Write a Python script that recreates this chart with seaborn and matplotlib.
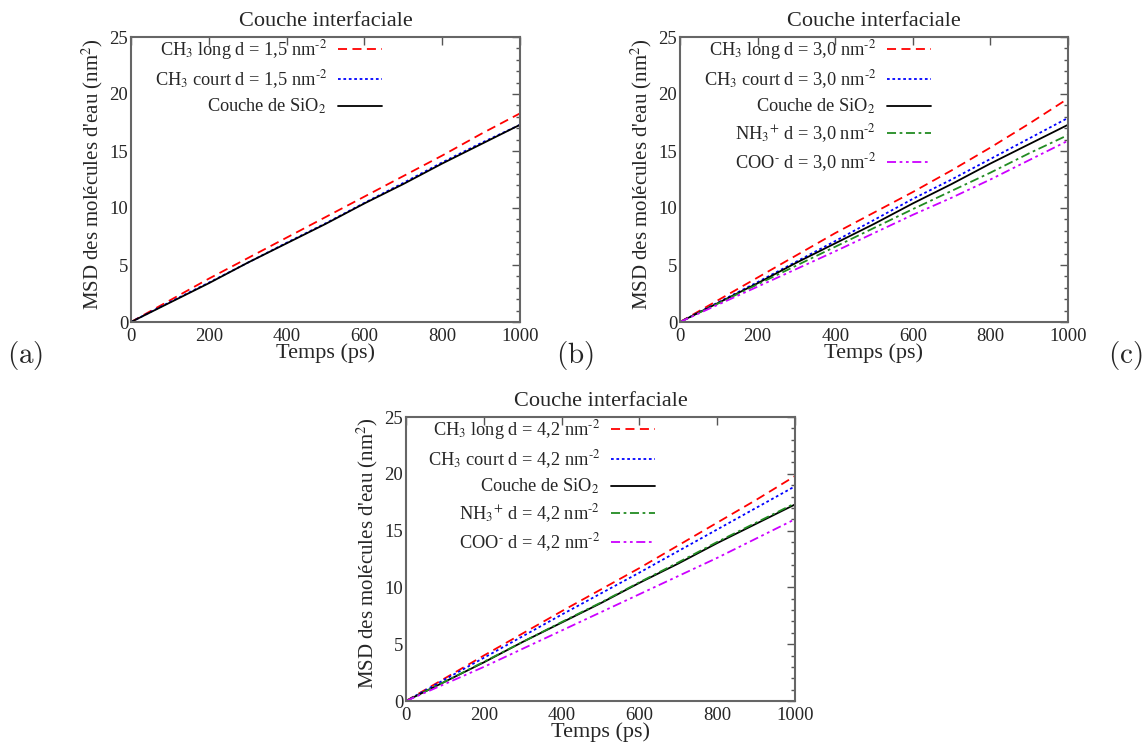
import numpy as np
import pandas as pd
import matplotlib
matplotlib.use("Agg")
import matplotlib.pyplot as plt
from matplotlib.ticker import MultipleLocator
import seaborn as sns

# temps (ps)
temps = [0, 100, 200, 300, 400, 500, 600, 700, 800, 900, 1000]

# couche de SiO2 (identique dans les trois panneaux)
sio2 = [0, 1.7, 3.4, 5.2, 6.9, 8.6, 10.4, 12.1, 13.9, 15.6, 17.3]

# (a) d = 1,5 nm-2
a_long = [0, 1.9, 3.8, 5.6, 7.4, 9.2, 11.0, 12.8, 14.6, 16.5, 18.3]
a_court = [0, 1.75, 3.45, 5.2, 6.95, 8.65, 10.45, 12.2, 14.0, 15.7, 17.3]

# (b) d = 3,0 nm-2
b_long = [0, 1.95, 3.9, 5.85, 7.8, 9.6, 11.4, 13.3, 15.3, 17.4, 19.6]
b_court = [0, 1.75, 3.5, 5.3, 7.1, 8.95, 10.8, 12.5, 14.3, 16.1, 17.9]
b_nh3 = [0, 1.65, 3.3, 4.95, 6.6, 8.25, 9.9, 11.5, 13.1, 14.8, 16.4]
b_coo = [0, 1.55, 3.1, 4.65, 6.2, 7.8, 9.4, 10.9, 12.5, 14.2, 15.9]

# (c) d = 4,2 nm-2
c_long = [0, 2.0, 4.0, 5.95, 7.9, 9.8, 11.7, 13.7, 15.7, 17.7, 19.8]
c_court = [0, 1.9, 3.8, 5.7, 7.6, 9.45, 11.3, 13.2, 15.1, 17.0, 18.9]
c_nh3 = [0, 1.7, 3.45, 5.2, 6.95, 8.65, 10.45, 12.2, 14.0, 15.7, 17.4]
c_coo = [0, 1.5, 3.0, 4.6, 6.2, 7.8, 9.4, 11.0, 12.6, 14.3, 16.0]

sns.set_style("white")
plt.rcParams['font.family'] = ['Liberation Serif', 'DejaVu Serif']
plt.rcParams['mathtext.fontset'] = 'stix'
plt.rcParams['font.size'] = 13

# styles des courbes
styles = {
    "long": dict(color="#ff0000", linestyle=(0, (5, 3))),
    "court": dict(color="#0000ff", linestyle=(0, (1.5, 1.5))),
    "sio2": dict(color="black", linestyle="-"),
    "nh3": dict(color="#228b22", linestyle=(0, (5, 2, 1.5, 2))),
    "coo": dict(color="#cc00ff", linestyle=(0, (5, 2, 1.5, 2, 1.5, 2))),
}


def panel(ax, series, leg_x):
    for key, label, vals in series:
        df = pd.DataFrame({"t": temps, "msd": vals})
        sns.lineplot(data=df, x="t", y="msd", ax=ax, label=label,
                     linewidth=1.3, **styles[key])
    ax.set_xlim(0, 1000)
    ax.set_ylim(0, 25)
    ax.xaxis.set_major_locator(MultipleLocator(200))
    ax.yaxis.set_major_locator(MultipleLocator(5))
    ax.yaxis.set_minor_locator(MultipleLocator(1))
    ax.tick_params(which="both", direction="in", top=True, right=True,
                   color="#555555", labelsize=13.5, pad=2)
    ax.tick_params(axis="x", pad=4)
    ax.tick_params(which="major", length=6, width=1)
    ax.tick_params(which="minor", length=3, width=1)
    for s in ax.spines.values():
        s.set_color("#666666")
        s.set_linewidth(1.5)
    ax.set_title("Couche interfaciale", fontsize=16, pad=8)
    ax.set_xlabel("Temps (ps)", fontsize=16, labelpad=-1)
    ax.set_ylabel("MSD des molécules d'eau (nm$^2$)", fontsize=15, labelpad=3,
                  y=0.52)
    ax.legend(loc="upper right", bbox_to_anchor=(leg_x, 0.995),
              markerfirst=False, frameon=False, fontsize=13.2,
              handlelength=2.4, handletextpad=0.6, labelspacing=0.32,
              borderaxespad=0, borderpad=0)


fig = plt.figure(figsize=(11.47, 7.44), dpi=100)
W, H = 1147, 744

ax_a = fig.add_axes([131 / W, 1 - 322 / H, 389 / W, 285 / H])
ax_b = fig.add_axes([680 / W, 1 - 322 / H, 388 / W, 285 / H])
ax_c = fig.add_axes([406 / W, 1 - 701 / H, 389 / W, 284 / H])

panel(ax_a, [
    ("long", "CH$_3$ long d = 1,5 nm$^{\\text{-2}}$", a_long),
    ("court", "CH$_3$ court d = 1,5 nm$^{\\text{-2}}$", a_court),
    ("sio2", "Couche de SiO$_2$", sio2),
], 0.645)
panel(ax_b, [
    ("long", "CH$_3$ long d = 3,0 nm$^{\\text{-2}}$", b_long),
    ("court", "CH$_3$ court d = 3,0 nm$^{\\text{-2}}$", b_court),
    ("sio2", "Couche de SiO$_2$", sio2),
    ("nh3", "NH$_3$$^{+}$ d = 3,0 nm$^{\\text{-2}}$", b_nh3),
    ("coo", "COO$^{\\text{-}}$ d = 3,0 nm$^{\\text{-2}}$", b_coo),
], 0.647)
panel(ax_c, [
    ("long", "CH$_3$ long d = 4,2 nm$^{\\text{-2}}$", c_long),
    ("court", "CH$_3$ court d = 4,2 nm$^{\\text{-2}}$", c_court),
    ("sio2", "Couche de SiO$_2$", sio2),
    ("nh3", "NH$_3$$^{+}$ d = 4,2 nm$^{\\text{-2}}$", c_nh3),
    ("coo", "COO$^{\\text{-}}$ d = 4,2 nm$^{\\text{-2}}$", c_coo),
], 0.64)

# étiquettes des sous-figures
for lab, x in [("(a)", 25), ("(b)", 575), ("(c)", 1125)]:
    fig.text(x / W, 1 - 355 / H, r"$\mathrm{" + lab + "}$", fontsize=21,
             ha="center", va="center", math_fontfamily="cm")

fig.savefig("out.png", dpi=100)
